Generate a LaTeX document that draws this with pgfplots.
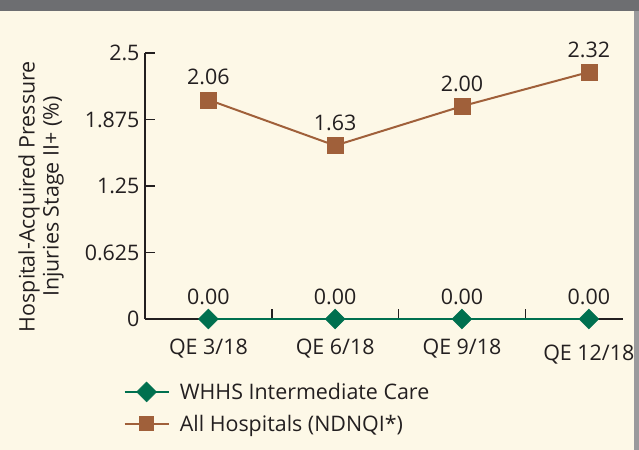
\documentclass[border=0pt]{standalone}
\usepackage{pgfplots}
\pgfplotsset{compat=1.18}
\usepackage{fontspec}
\setmainfont{Open Sans}
\definecolor{cream}{HTML}{FDF8E7}
\definecolor{topbar}{HTML}{6D6E71}
\definecolor{edgegray}{HTML}{9A9A9C}
\definecolor{ink}{HTML}{231F20}
\definecolor{whgreen}{HTML}{00704F}
\definecolor{hbrown}{HTML}{A0603A}
\newcommand{\chartfont}{\fontsize{21.5}{22}\selectfont}
\begin{document}
\begin{tikzpicture}
\fill[cream] (0bp,0bp) rectangle (639bp,450bp);
\fill[topbar] (0bp,439bp) rectangle (639bp,450bp);
\fill[edgegray] (634bp,0bp) rectangle (639bp,439bp);
\begin{axis}[
  at={(145bp,131bp)}, anchor=south west,
  scale only axis, width=478bp, height=266bp,
  xmin=-0.5, xmax=3.27, ymin=0, ymax=2.5,
  clip=false,
  axis lines*=left,
  axis line style={ink, line width=1.8bp},
  xtick={0.5,1.5,2.5}, xticklabels={},
  extra x ticks={0,1,2,3},
  extra x tick labels={QE 3/18,QE 6/18,QE 9/18,\raisebox{-6bp}[\height][\depth]{QE 12/18}},
  extra x tick style={tick style={draw=none}},
  ytick={0,0.625,1.25,1.875,2.5},
  yticklabels={0,0.625,1.25,1.875,2.5},
  tick align=inside, major tick length=10bp,
  tick style={ink, line width=1.5bp},
  ticklabel style={font=\chartfont, text=ink},
  yticklabel style={xshift=-2bp},
  xticklabel style={yshift=-16bp},
  /pgf/number format/assume math mode=true,
  every axis y label/.style={at={(axis description cs:-0.2176,0.46)}, rotate=90, anchor=center, align=center, font=\fontsize{21.5}{24}\selectfont, text=ink},
  ylabel={Hospital-Acquired Pressure\\Injuries Stage II+ (\%)},
  point meta=explicit symbolic,
  nodes near coords,
  every node near coord/.style={anchor=south, yshift=11bp, font=\chartfont, text=ink},
  legend style={draw=none, fill=none, at={(axis description cs:-0.052,-0.225)}, anchor=north west, font=\chartfont, text=ink, row sep=10bp},
  legend cell align=left,
  legend image code/.code={\draw[mark repeat=2,mark phase=2] plot coordinates {(0bp,0bp) (22bp,0bp) (44bp,0bp)}; \path (52bp,0bp);},
]
\addplot[whgreen, line width=2.5bp, mark=square*, mark size=7bp, mark options={rotate=45, fill=whgreen, draw=whgreen, line width=0.5bp}]
  coordinates {(0,0) [0.00] (1,0) [0.00] (2,0) [0.00] (3,0) [0.00]};
\addlegendentry{WHHS Intermediate Care}
\addplot[hbrown, line width=2bp, mark=square*, mark size=8bp, mark options={fill=hbrown, draw=hbrown, line width=0.5bp}, legend image post style={mark size=7bp}]
  coordinates {(0,2.06) [2.06] (1,1.63) [1.63] (2,2.00) [2.00] (3,2.32) [2.32]};
\addlegendentry{All Hospitals (NDNQI*)}
\end{axis}
\pgfresetboundingbox
\path (0bp,0bp) rectangle (639bp,450bp);
\end{tikzpicture}
\end{document}
